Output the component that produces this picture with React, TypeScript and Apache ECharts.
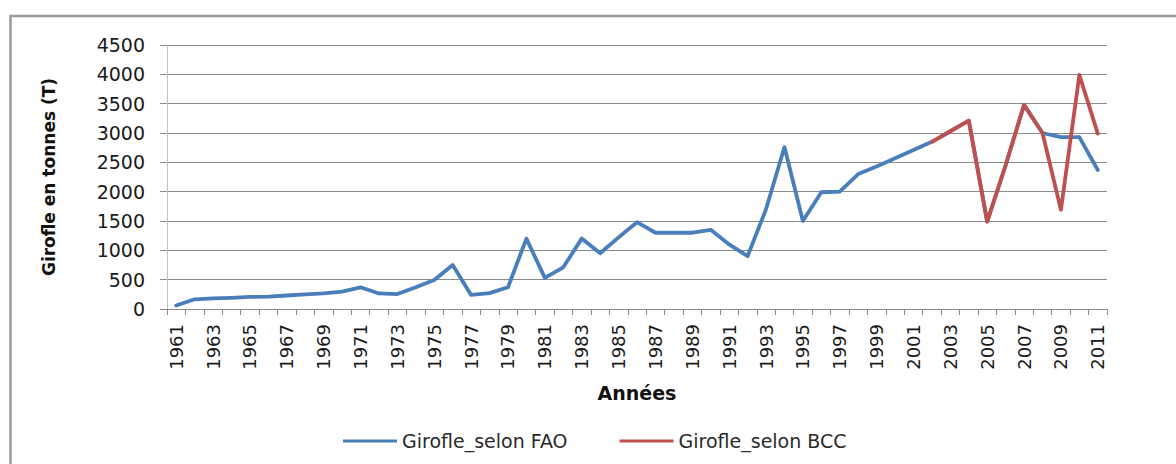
import React, { useEffect, useRef } from "react";
import * as echarts from "echarts";

const years: string[] = [
  "1961","1962","1963","1964","1965","1966","1967","1968","1969","1970",
  "1971","1972","1973","1974","1975","1976","1977","1978","1979","1980",
  "1981","1982","1983","1984","1985","1986","1987","1988","1989","1990",
  "1991","1992","1993","1994","1995","1996","1997","1998","1999","2000",
  "2001","2002","2003","2004","2005","2006","2007","2008","2009","2010","2011",
];

const faoValues: number[] = [
  60, 165, 180, 190, 205, 210, 230, 250, 265, 295,
  370, 265, 255, 370, 495, 750, 240, 270, 370, 1200,
  530, 710, 1200, 950, 1220, 1480, 1300, 1300, 1300, 1350,
  1100, 900, 1700, 2760, 1500, 1990, 2000, 2300, 2430, 2570,
  2710, 2850, 3030, 3210, 1490, 2450, 3480, 3000, 2930, 2930, 2370,
];

const bccValues: (number | null)[] = [
  null, null, null, null, null, null, null, null, null, null,
  null, null, null, null, null, null, null, null, null, null,
  null, null, null, null, null, null, null, null, null, null,
  null, null, null, null, null, null, null, null, null, null,
  null, 2850, 3030, 3210, 1490, 2450, 3480, 3000, 1690, 3990, 2990,
];

const seriesNames: string[] = ["Girofle_selon FAO", "Girofle_selon BCC"];
const yTitle = "Girofle en tonnes (T)";
const xTitle = "Années";

const FONT = "DejaVu Sans";

export default function App() {
  const ref = useRef<HTMLDivElement>(null);
  useEffect(() => {
    if (!ref.current) return;
    const chart = echarts.init(ref.current, null, { renderer: "svg" });
    chart.setOption({
      animation: false,
      backgroundColor: "#ffffff",
      grid: { left: 167, top: 45, width: 940, height: 264, containLabel: false },
      legend: {
        left: 338,
        top: 426,
        icon: "rect",
        itemWidth: 54,
        itemHeight: 3,
        itemGap: 52,
        itemTextGap: 5,
        textStyle: { fontFamily: FONT, fontSize: 19, color: "#2a2a2a", lineHeight: 20 },
        data: seriesNames,
      },
      xAxis: {
        type: "category",
        data: years,
        boundaryGap: true,
        name: xTitle,
        nameLocation: "middle",
        nameGap: 74,
        nameTextStyle: { fontFamily: FONT, fontSize: 19, fontWeight: "bold", color: "#111" },
        axisLine: { show: true, lineStyle: { color: "#8a8a8a", width: 1 } },
        axisTick: { show: true, interval: 0, length: 6, alignWithLabel: false, lineStyle: { color: "#8a8a8a" } },
        axisLabel: {
          interval: 1,
          rotate: 90,
          margin: 15,
          fontFamily: FONT,
          fontSize: 18,
          color: "#1a1a1a",
        },
        splitLine: { show: false },
      },
      yAxis: {
        type: "value",
        min: 0,
        max: 4500,
        interval: 500,
        name: yTitle,
        nameLocation: "middle",
        nameGap: 110,
        nameTextStyle: { fontFamily: FONT, fontSize: 17, fontWeight: "bold", color: "#111" },
        axisLine: { show: true, lineStyle: { color: "#c4c4c4", width: 1 } },
        axisTick: { show: true, length: 7, lineStyle: { color: "#8a8a8a" } },
        axisLabel: {
          margin: 22,
          fontFamily: FONT,
          fontSize: 19,
          color: "#1a1a1a",
          formatter: (v: number) => String(v),
        },
        splitLine: { show: true, lineStyle: { color: "#8a8a8a", width: 1 } },
      },
      series: [
        {
          name: seriesNames[0],
          type: "line",
          data: faoValues,
          symbol: "none",
          itemStyle: { color: "#4a7ebb" },
          lineStyle: { color: "#4a7ebb", width: 3.8, join: "round", cap: "round" },
          z: 2,
        },
        {
          name: seriesNames[1],
          type: "line",
          data: bccValues,
          symbol: "none",
          connectNulls: false,
          itemStyle: { color: "#c0504d" },
          lineStyle: { color: "#c0504d", width: 3.8, join: "round", cap: "round" },
          z: 3,
        },
      ],
      graphic: [
        {
          type: "polyline",
          silent: true,
          shape: { points: [[10.5, 470], [10.5, 16], [1180, 16]] },
          style: { stroke: "#9c9c9c", lineWidth: 2.5, fill: "none" },
          z: 10,
        },
      ],
    });
    return () => chart.dispose();
  }, []);
  return (
    <div
      ref={ref}
      style={{ position: "fixed", left: 0, top: 0, width: 1176, height: 464, background: "#fff" }}
    />
  );
}
